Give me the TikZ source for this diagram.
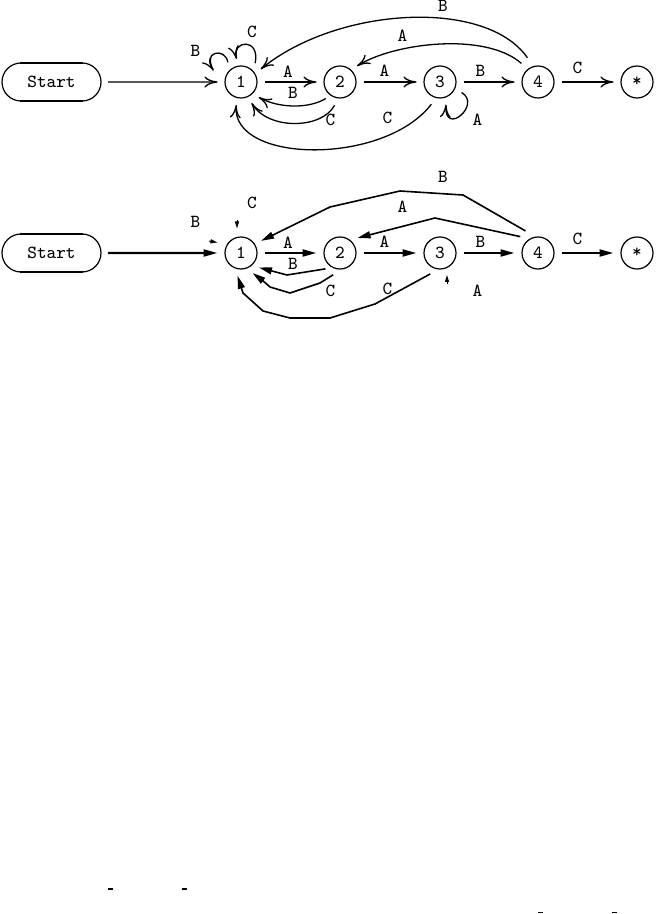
\documentclass[tikz,border=0pt]{standalone}
\usetikzlibrary{arrows.meta,shapes.misc}
\begin{document}
\begin{tikzpicture}[x=0.5pt,y=-0.5pt,
  font=\fontsize{9.2pt}{11pt}\selectfont\ttfamily,
  st/.style={circle,draw,line width=0.6pt,minimum size=16pt,inner sep=0pt,outer sep=2pt},
  startbox/.style={rounded rectangle,draw,line width=0.6pt,minimum width=49.5pt,minimum height=19pt,inner sep=0pt,outer sep=0pt},
  lbl/.style={inner sep=0pt},
  thickbar/.style={line width=1.4pt},
  tedge/.style={line width=0.65pt,-{Computer Modern Rightarrow[length=6.5pt,width=5.5pt]},shorten <=2pt,shorten >=1.75pt},
  bedge/.style={line width=1.1pt,-{Triangle[length=7pt,width=3.5pt]},shorten <=2pt,shorten >=1.75pt},
  bcurve/.style={line width=0.8pt,-{Triangle[length=6.5pt,width=3.5pt]},shorten <=2pt,shorten >=1.75pt},
  stub/.style={line width=0.5pt,-{Triangle[length=3.5pt,width=2pt]}},
  straymark/.style={line width=0.6pt},
]
\useasboundingbox (0,0) rectangle (655,914);

% ---------------- top diagram ----------------
\node[startbox] (S) at (51.5,82) {Start};
\draw[thickbar] ([xshift=-15.75pt]S.north) -- ([xshift=15.75pt]S.north);
\draw[thickbar] ([xshift=-15.75pt]S.south) -- ([xshift=15.75pt]S.south);
\node[st] (n1) at (241,82) {1};
\node[st] (n2) at (340,82) {2};
\node[st] (n3) at (440,82) {3};
\node[st] (n4) at (538,82) {4};
\node[st] (n5) at (637,82) {*};

\draw[tedge,shorten <=3.5pt] (S) -- (n1);
\draw[tedge] (n1) -- (n2);
\draw[tedge] (n2) -- (n3);
\draw[tedge] (n3) -- (n4);
\draw[tedge] (n4) -- (n5);

\draw[tedge,shorten <=1pt] (n2.-129) .. controls +(-20,12) and +(22,12) .. (n1.-43);
\draw[tedge] (n2.-100) .. controls +(-15,28) and +(18,30) .. (n1.-64);
\draw[tedge] (n3.-108) .. controls +(-50,65) and +(-5,62) .. (n1.-103);
\draw[tedge,shorten <=2.5pt] (n4.130) .. controls +(-40,-35) and +(40,-25) .. (n2.45);
\draw[tedge,shorten <=3.3pt] (n4.110) .. controls +(-45,-65) and +(80,-65) .. (n1.32);

\draw[tedge] (n1.48) .. controls +(6,-30) and +(-6,-22) .. (n1.100);
\coordinate (b1) at (215.5,73.5);
\draw[tedge] (n1.128) .. controls +(-4,-20) and +(-14,-21) .. (b1);
\draw[tedge] (n3.-25) .. controls +(24,14) and +(-2,36) .. (n3.-72);

\node[lbl] (tl1) at (443,6) {B};
\node[lbl] (tl2) at (402.5,36) {A};
\node[lbl] (tl3) at (252,32) {C};
\node[lbl] (tl4) at (195.5,50.5) {B};
\node[lbl] (tl5) at (288,71.5) {A};
\node[lbl] (tl6) at (293,93) {B};
\node[lbl] (tl7) at (384.5,70.5) {A};
\node[lbl] (tl8) at (480.5,71) {B};
\node[lbl] (tl9) at (577.5,68) {C};
\node[lbl] (tl10) at (330.5,120) {C};
\node[lbl] (tl11) at (387.5,118) {C};
\node[lbl] (tl12) at (477.5,119.5) {A};

% ---------------- bottom diagram ----------------
\node[startbox] (S2) at (51.5,253) {Start};
\draw[thickbar] ([xshift=-15.75pt]S2.north) -- ([xshift=15.75pt]S2.north);
\draw[thickbar] ([xshift=-15.75pt]S2.south) -- ([xshift=15.75pt]S2.south);
\node[st] (m1) at (241,253) {1};
\node[st] (m2) at (340,253) {2};
\node[st] (m3) at (440,253) {3};
\node[st] (m4) at (538,253) {4};
\node[st] (m5) at (637,253) {*};

\draw[bedge,shorten <=3.5pt] (S2) -- (m1);
\draw[bedge] (m1) -- (m2);
\draw[bedge] (m2) -- (m3);
\draw[bedge] (m3) -- (m4);
\draw[bedge] (m4) -- (m5);

\draw[bcurve,shorten <=1pt] (m2.-129) -- (287,275) -- (m1.-43);
\draw[bcurve] (m2.-100) -- (320,283) -- (290,293) -- (270,287) -- (262,280) -- (m1.-64);
\draw[bcurve] (m3.-108) -- (375,304) -- (330,318) -- (290,318) -- (263,311) -- (243,293) -- (m1.-103);
\draw[bcurve,shorten <=2.5pt] (m4.130) -- (435,218) -- (m2.45);
\draw[bcurve,shorten <=3.3pt] (m4.110) -- (463,195) -- (400,191) -- (330,207) -- (m1.32);

\draw[stub] (237,220) -- (237,228.5);
\draw[stub] (209,241) -- (217.5,242.5);
\draw[stub] (447,284) -- (447,275);

\node[lbl] (bl1) at (443,177) {B};
\node[lbl] (bl2) at (402.5,207) {A};
\node[lbl] (bl3) at (252,203) {C};
\node[lbl] (bl4) at (195.5,221.5) {B};
\node[lbl] (bl5) at (288,242.5) {A};
\node[lbl] (bl6) at (293,264) {B};
\node[lbl] (bl7) at (384.5,241.5) {A};
\node[lbl] (bl8) at (480.5,242) {B};
\node[lbl] (bl9) at (577.5,239) {C};
\node[lbl] (bl10) at (330.5,291) {C};
\node[lbl] (bl11) at (387.5,289) {C};
\node[lbl] (bl12) at (477.5,290.5) {A};

% ---------------- stray marks ----------------
\draw[straymark] (108,889) -- (112.5,889);
\draw[straymark] (182,889) -- (186.5,889);
\draw[straymark] (538,912.8) -- (543,912.8);
\draw[straymark] (612,912.8) -- (616.5,912.8);
\end{tikzpicture}
\end{document}
